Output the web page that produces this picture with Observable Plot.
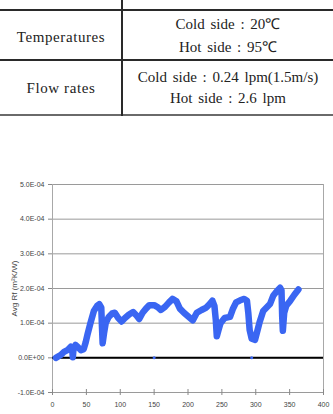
<!DOCTYPE html>
<html><head><meta charset="utf-8">
<script src="https://cdn.jsdelivr.net/npm/d3@7"></script>
<script src="https://cdn.jsdelivr.net/npm/@observablehq/plot@0.6"></script>
<style>
body{margin:0;background:#fff;width:333px;height:414px;overflow:hidden;position:relative}
#table{position:absolute;left:0;top:0}
#chart{position:absolute;left:0;top:170px}
</style></head><body>
<svg id="table" width="333" height="120"></svg>
<div id="chart"></div>
<script>
// ---- table content ----
const rowLabels = ["Temperatures", "Flow rates"];
const rowLines = [
  ["Cold side : 20℃", "Hot side : 95℃"],
  ["Cold side : 0.24 lpm(1.5m/s)", "Hot side : 2.6 lpm"]
];

// ---- chart data (time, Avg Rf in m²K/W) ----
const timeMin = [5,12,17,22,27,29,30,31,34,38,42,46,49,52,56,61,66,69,72,73,74,76,78.5,83,88,92,97,102,107,113,119,124,128,133,138,143,150,156,160,166,172,177,183,188,194,200,207,213,220,227,232,236,239,241,242.5,245,248,254,262,266,271,277,283,287,289,291,294,299,302,306,311,316,321,326,331,336,338,339,340,342,345,351,357,363];
const avgRf = [0.0,0.08,0.17,0.22,0.32,0.25,0.02,0.25,0.37,0.3,0.22,0.25,0.45,0.7,1.0,1.35,1.5,1.55,1.45,0.9,0.42,0.7,1.0,1.18,1.28,1.3,1.15,1.05,1.15,1.25,1.32,1.22,1.12,1.3,1.42,1.52,1.52,1.45,1.38,1.47,1.6,1.7,1.63,1.42,1.3,1.2,1.08,1.3,1.38,1.45,1.55,1.65,1.5,1.1,0.62,0.8,1.0,1.15,1.18,1.4,1.6,1.66,1.7,1.65,1.3,0.8,0.55,0.52,0.75,1.05,1.35,1.45,1.55,1.8,1.92,2.02,1.95,1.2,0.78,1.3,1.5,1.65,1.82,1.97].map(v => v * 1e-4);
const strayTime = [150, 294];
const strayRf = [0, 0];

const xTicks = [0, 50, 100, 150, 200, 250, 300, 350, 400];
const yTicks = [-1e-4, 0, 1e-4, 2e-4, 3e-4, 4e-4, 5e-4];
const yLabel = "Avg Rf (m²K/W)";

// ---- draw table ----
const tsvg = d3.select("#table");
const hLines = [{y:10, c:"#2a2a2a"}, {y:60, c:"#2a2a2a"}, {y:115, c:"#6a6a6a"}];
hLines.forEach(l => tsvg.append("line").attr("x1",0).attr("x2",333).attr("y1",l.y).attr("y2",l.y).attr("stroke",l.c).attr("stroke-width",2));
tsvg.append("line").attr("x1",122).attr("x2",122).attr("y1",0).attr("y2",116).attr("stroke","#2a2a2a").attr("stroke-width",2);
const tfont = "'Liberation Serif', 'Times New Roman', serif";
const labelY = [41.5, 93.3];
const lineY = [[29.3, 51.7], [81.7, 103.3]];
rowLabels.forEach((lab, i) => {
  tsvg.append("text").attr("x",61).attr("y",labelY[i]).attr("text-anchor","middle")
    .attr("font-family",tfont).attr("font-size",15).attr("letter-spacing","0.6px").attr("fill","#222").text(lab);
  rowLines[i].forEach((t, j) => {
    tsvg.append("text").attr("x",228).attr("y",lineY[i][j]).attr("text-anchor","middle")
      .attr("font-family",tfont).attr("font-size",15).attr("word-spacing","2px").attr("fill","#222").text(t);
  });
});

// ---- chart ----
const data = timeMin.map((t, i) => ({t, v: avgRf[i]}));
const stray = strayTime.map((t, i) => ({t, v: strayRf[i]}));
const fmt = d => {
  const [m, e] = d.toExponential(1).split("e");
  return m + "E" + e[0] + e.slice(1).padStart(2, "0");
};
const blue = "#3a66f2";
const chart = Plot.plot({
  width: 333, height: 244,
  marginTop: 14, marginBottom: 22, marginLeft: 52, marginRight: 10,
  style: {fontFamily: "'Liberation Sans', Arial, sans-serif", fontSize: "7px", color: "#333", background: "#fff"},
  x: {domain: [0, 400], ticks: xTicks},
  y: {domain: [-1e-4, 5e-4], ticks: yTicks},
  marks: [
    Plot.gridY(yTicks, {stroke: "#9a9a9a", strokeOpacity: 1, strokeWidth: 1}),
    Plot.ruleX([0], {stroke: "#a8a8a8"}),
    Plot.ruleX([400], {stroke: "#a8a8a8"}),
    Plot.ruleY([0], {stroke: "#000", strokeWidth: 2}),
    Plot.axisY({ticks: yTicks, tickFormat: fmt, tickSize: 4, tickPadding: 4, label: null, stroke: "#888", fill: "#444"}),
    Plot.axisX({ticks: xTicks, tickSize: 6, dy: -3, tickFormat: () => "", label: null, stroke: "#888"}),
    Plot.axisX({ticks: xTicks, tickSize: 0, tickPadding: 10, label: null, fill: "#444"}),
    Plot.line(data, {x: "t", y: "v", stroke: blue, strokeWidth: 6.5, strokeLinejoin: "round", strokeLinecap: "round"}),
    Plot.dot(stray, {x: "t", y: "v", r: 1.5, fill: blue, stroke: null}),
    Plot.text([yLabel], {frameAnchor: "left", rotate: -90, dx: -38.5, textAnchor: "middle", fontSize: 8, fill: "#444"})
  ]
});
document.getElementById("chart").appendChild(chart);
</script>
</body></html>
